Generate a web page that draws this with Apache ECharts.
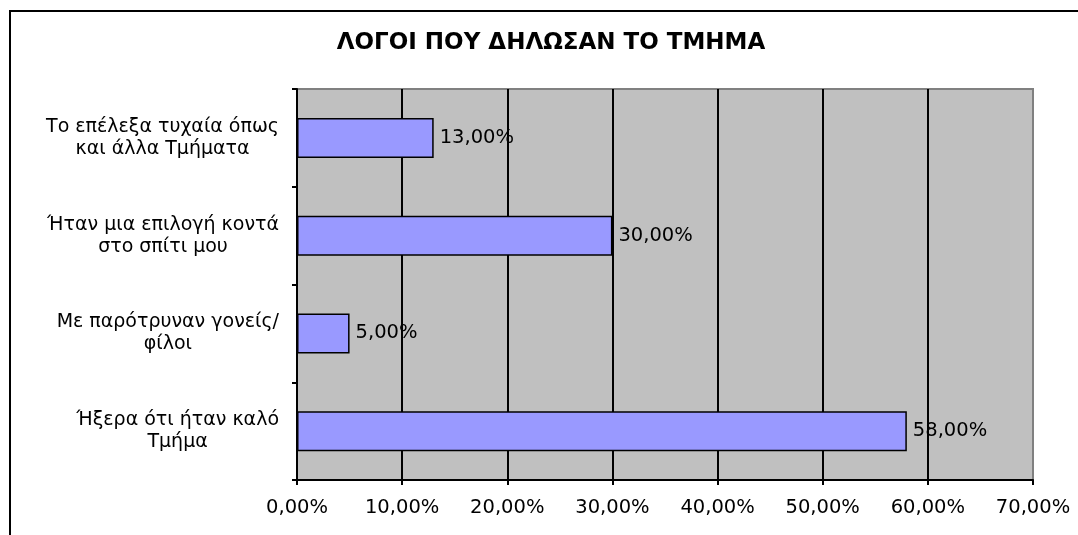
<!DOCTYPE html>
<html>
<head>
<meta charset="utf-8">
<script src="https://cdn.jsdelivr.net/npm/echarts@6/dist/echarts.min.js"></script>
<style>
  html, body { margin: 0; padding: 0; background: #fff; }
  #chart { width: 1078px; height: 535px; }
</style>
</head>
<body>
<div id="chart"></div>
<script>
  var chartTitle = 'ΛΟΓΟΙ ΠΟΥ ΔΗΛΩΣΑΝ ΤΟ ΤΜΗΜΑ';
  // categories top to bottom, each split into its two printed lines
  var categories = [
    ['Το επέλεξα τυχαία όπως', 'και άλλα Τμήματα'],
    ['Ήταν μια επιλογή κοντά', 'στο σπίτι μου'],
    ['Με παρότρυναν γονείς/', 'φίλοι'],
    ['Ήξερα ότι ήταν καλό', 'Τμήμα']
  ];
  var values = [13, 30, 5, 58];
  var xTicks = { min: 0, max: 70, step: 10 };

  var font = 'DejaVu Sans';
  function pct(v) {
    return Number(v).toFixed(2).replace('.', ',') + '%';
  }

  var myChart = echarts.init(document.getElementById('chart'));
  var option = {
    animation: false,
    title: {
      text: chartTitle,
      left: 546,
      textAlign: 'center',
      top: 27,
      textStyle: { fontFamily: font, fontWeight: 'bold', fontSize: 23, color: '#000' }
    },
    graphic: [{
      type: 'rect',
      shape: { x: 10, y: 11, width: 1200, height: 700 },
      style: { fill: 'none', stroke: '#000', lineWidth: 2 },
      silent: true
    }],
    grid: {
      left: 297,
      right: 45,
      top: 89,
      bottom: 55,
      show: true,
      backgroundColor: '#C0C0C0',
      borderColor: '#808080',
      borderWidth: 2
    },
    xAxis: {
      type: 'value',
      min: xTicks.min,
      max: xTicks.max,
      interval: xTicks.step,
      axisLine: { show: true, lineStyle: { color: '#000', width: 2 } },
      axisTick: { show: true, length: 5, lineStyle: { color: '#000', width: 2 } },
      axisLabel: {
        margin: 18,
        color: '#000',
        fontFamily: font,
        fontSize: 19.5,
        formatter: pct
      },
      splitLine: {
        show: true,
        showMinLine: false,
        showMaxLine: false,
        lineStyle: { color: '#000', width: 2 }
      }
    },
    yAxis: {
      type: 'category',
      inverse: true,
      data: categories.map(function (c) { return c.join('\n'); }),
      axisLine: { show: true, lineStyle: { color: '#000', width: 2 } },
      axisTick: { show: true, length: 5, lineStyle: { color: '#000', width: 2 } },
      axisLabel: {
        margin: 18,
        color: '#000',
        align: 'right',
        lineHeight: 22,
        fontFamily: font,
        fontSize: 19,
        formatter: function (v) {
          return v.split('\n').map(function (s) { return '{c|' + s + '}'; }).join('\n');
        },
        rich: {
          c: { align: 'center', fontFamily: font, fontSize: 19, lineHeight: 22, color: '#000' }
        }
      }
    },
    series: [{
      type: 'bar',
      data: values,
      barWidth: 40,
      itemStyle: { color: '#9999FF', borderColor: '#000', borderWidth: 1.5 },
      label: {
        show: true,
        position: 'right',
        distance: 6,
        color: '#000',
        fontFamily: font,
        fontSize: 19.5,
        formatter: function (p) { return pct(p.value); }
      }
    }]
  };
  myChart.setOption(option);
</script>
</body>
</html>
